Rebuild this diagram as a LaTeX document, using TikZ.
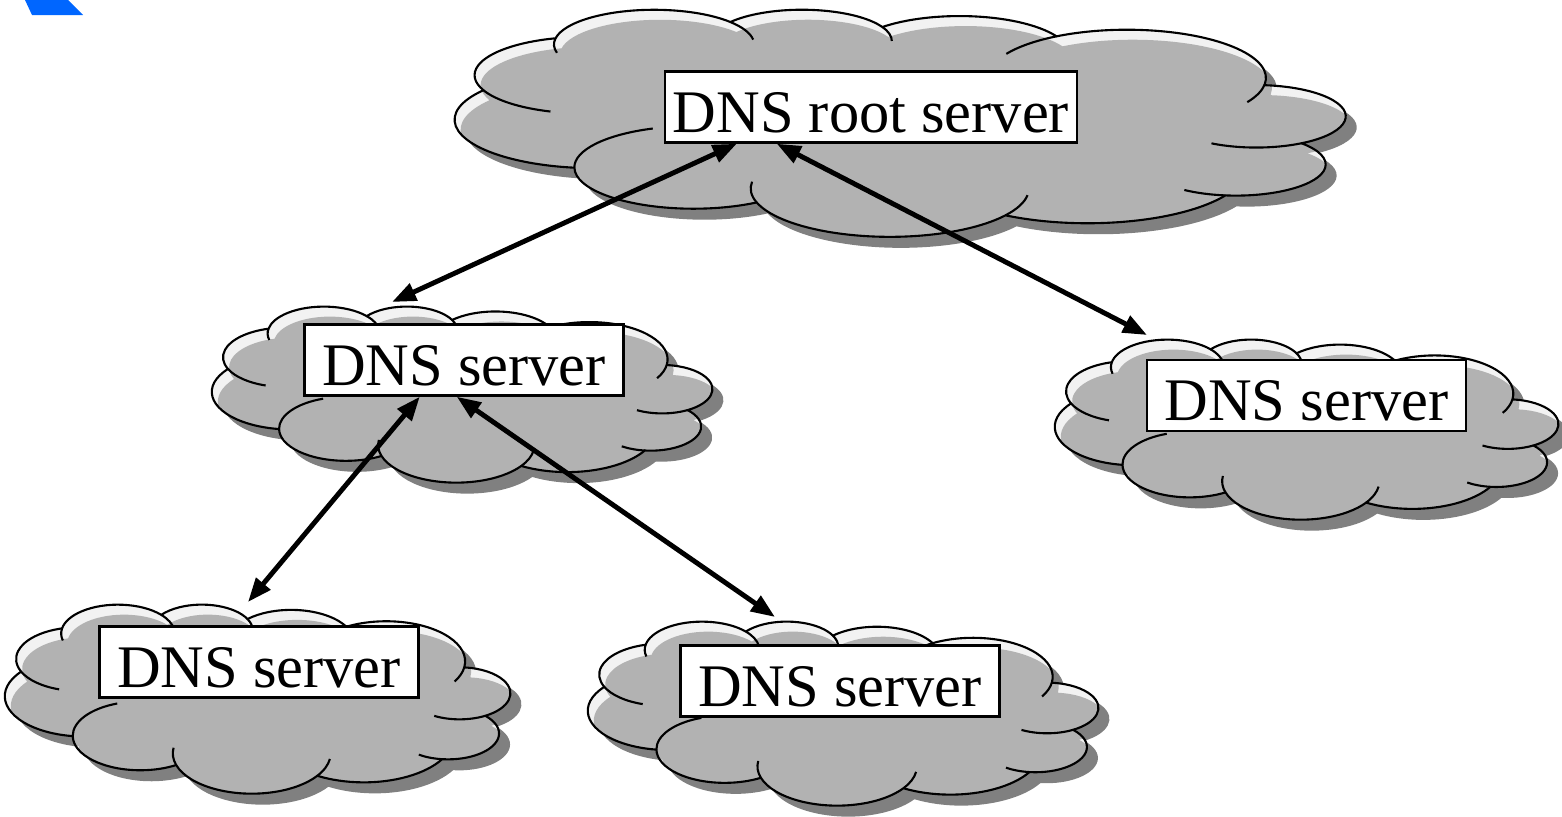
\documentclass[tikz,border=0pt]{standalone}
\usepackage{fontspec}
\setmainfont{Liberation Serif}
\usetikzlibrary{arrows.meta}

\definecolor{cloudbody}{HTML}{B2B2B2}
\definecolor{cloudlight}{HTML}{F2F2F2}
\definecolor{cloudshade}{HTML}{808080}
\definecolor{cornerblue}{RGB}{0,102,255}

% cloud outline in a 43.2 x 43.2 box (y pointing down)
\newcommand{\cloudpath}{(3.9,14.37)
  arc[start angle=172.25,end angle=300.36,x radius=6.753,y radius=9.19]
  arc[start angle=-152.04,end angle=-45.45,x radius=5.333,y radius=7.267]
  arc[start angle=-153.49,end angle=-37.33,x radius=4.365,y radius=5.945]
  arc[start angle=-139.72,end angle=-10.21,x radius=4.857,y radius=6.595]
  arc[start angle=-74.77,end angle=23.21,x radius=5.333,y radius=7.273]
  arc[start angle=-37.52,end angle=81.86,x radius=6.775,y radius=9.22]
  arc[start angle=0.46,end angle=121.98,x radius=5.785,y radius=7.867]
  arc[start angle=16.84,end angle=146.22,x radius=6.752,y radius=9.215]
  arc[start angle=58.98,end angle=150.18,x radius=7.72,y radius=10.543]
  arc[start angle=83.31,end angle=223.10,x radius=4.36,y radius=5.918]
  arc[start angle=120.35,end angle=264.11,x radius=4.345,y radius=5.945]
  -- cycle}
% the folds inside a cloud, each one running on from a lobe
\newcommand{\cloudfolds}{
  (2.115,25.551) arc[start angle=120.35,end angle=60,x radius=4.345,y radius=5.945]
  (5.806,35.472) arc[start angle=83.31,end angle=55,x radius=4.36,y radius=5.918]
  (16.483,39.265) arc[start angle=146.22,end angle=172,x radius=6.752,y radius=9.215]
  (28.557,36.81) arc[start angle=16.84,end angle=-8,x radius=6.752,y radius=9.215]
  (37.406,30.2) arc[start angle=0.46,end angle=-70,x radius=5.785,y radius=7.867]
  (41.82,15.458) arc[start angle=23.21,end angle=72,x radius=5.333,y radius=7.273]
  (38.319,5.574) arc[start angle=-10.21,end angle=14,x radius=4.857,y radius=6.595]
  (29.833,2.479) arc[start angle=-139.72,end angle=-172,x radius=4.857,y radius=6.595]
  (22.456,3.43) arc[start angle=-153.49,end angle=-180,x radius=4.365,y radius=5.945]
  (14.004,5.201) arc[start angle=-59.64,end angle=-30,x radius=6.753,y radius=9.19]
  (3.9,14.37) arc[start angle=172.25,end angle=150,x radius=6.753,y radius=9.19]}
% #1 left, #2 top, #3 width, #4 height
\newcommand{\dnscloud}[4]{
  \fill[cloudshade, shift={(#1+#3+0.11,#2-0.11)}, xscale=-#3/43.2, yscale=-#4/43.2] \cloudpath;
  \begin{scope}[shift={(#1+#3,#2)}, xscale=-#3/43.2, yscale=-#4/43.2]
    \fill[cloudlight] \cloudpath;
    \begin{scope}
      \clip \cloudpath;
      \fill[cloudbody, shift={(-0.06*43.2/#3,0.10*43.2/#4)}] \cloudpath;
    \end{scope}
    \draw[cloudline] \cloudpath;
    \draw[cloudline] \cloudfolds;
  \end{scope}}

\begin{document}
\begin{tikzpicture}[
    cloudline/.style={line width=0.6pt, line join=round},
    srvbox/.style={draw, fill=white, line width=0.7pt, inner sep=0pt,
      minimum width=3.19cm, minimum height=0.71cm, text height=0.55cm,
      text depth=0.05cm, font=\fontsize{17.2}{20}\selectfont},
    link/.style={{Triangle[length=0.24cm,width=0.18cm]}-{Triangle[length=0.24cm,width=0.18cm]},
      line width=1.4pt}]
  \useasboundingbox (0,0) rectangle (15.62,8.16);
  % corner mark
  \fill[cornerblue] (0.25,8.16) -- (0.68,8.16) -- (0.83,8.01) -- (0.32,8.01) -- cycle;
  % Clouds
  \dnscloud{4.55}{8.07}{8.90}{2.27}
  \dnscloud{2.12}{5.10}{5.00}{1.76}
  \dnscloud{10.55}{4.77}{5.03}{1.80}
  \dnscloud{0.05}{2.12}{5.05}{1.89}
  \dnscloud{5.88}{1.95}{5.10}{1.84}
  % Server boxes
  \node[srvbox, minimum width=4.12cm] (root) at (8.71,7.09) {DNS root server};
  \node[srvbox] (mid) at (4.64,4.56) {DNS server};
  \node[srvbox] (side) at (13.065,4.205) {DNS server};
  \node[srvbox] (leafa) at (2.59,1.54) {DNS server};
  \node[srvbox] (leafb) at (8.40,1.35) {DNS server};
  % Arrow ends
  \coordinate (rootl) at ([xshift=0.73cm]root.south west);
  \coordinate (rootr) at ([xshift=1.13cm]root.south west);
  \coordinate (midl) at ([xshift=1.165cm]mid.south west);
  \coordinate (midr) at ([xshift=1.535cm]mid.south west);
  \coordinate (midtop) at (3.92,5.14);
  \coordinate (sidetop) at (11.47,4.81);
  \coordinate (leafatop) at (2.48,2.14);
  \coordinate (leafbtop) at (7.75,1.99);
  % Links
  \draw[link] (rootl) -- (midtop);
  \draw[link] (rootr) -- (sidetop);
  \draw[link] (midl) -- (leafatop);
  \draw[link] (midr) -- (leafbtop);
\end{tikzpicture}
\end{document}
